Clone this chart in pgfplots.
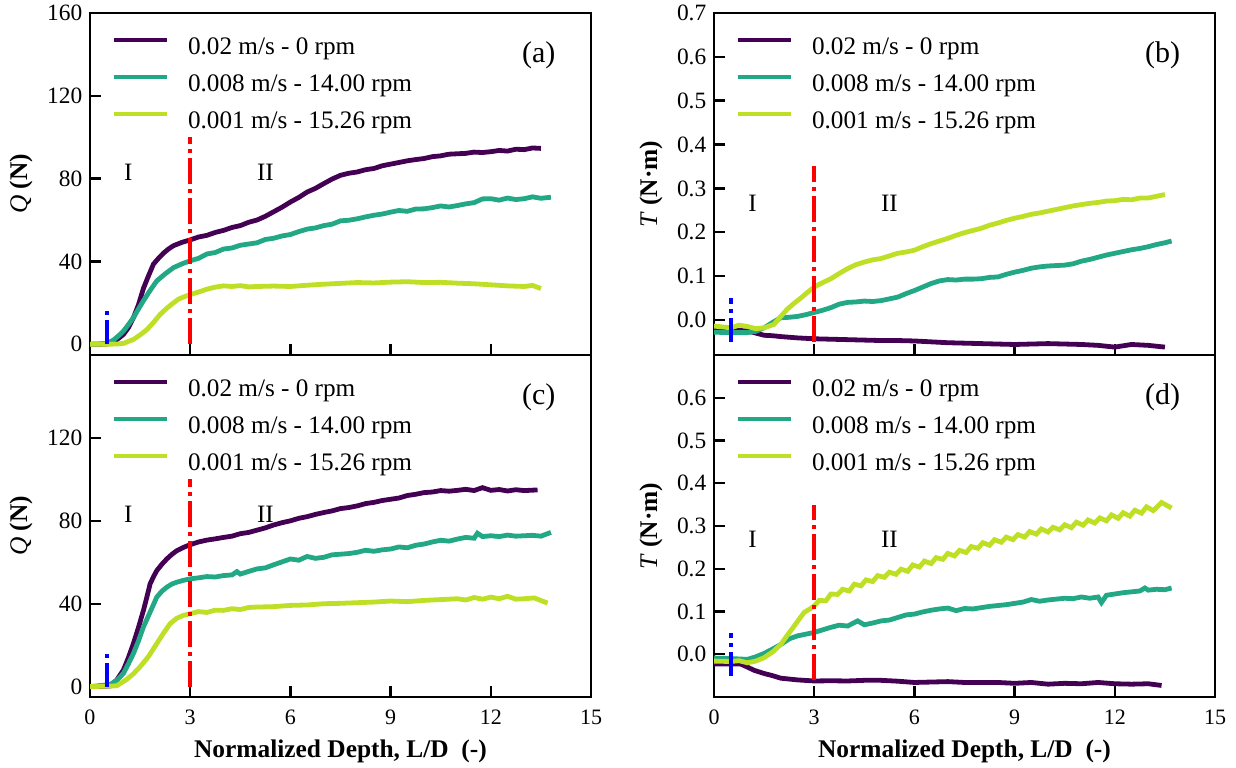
\documentclass[border=0pt]{standalone}
\usepackage{fontspec}
\setmainfont{Liberation Serif}
\usepackage{pgfplots}
\pgfplotsset{compat=1.18}
\definecolor{vpurple}{HTML}{440154}
\definecolor{vteal}{HTML}{22A884}
\definecolor{vyellow}{HTML}{BDDF26}
\tikzset{
  rom/.style={font=\fontsize{12.5}{14}\selectfont},
  pan/.style={font=\fontsize{15}{17}\selectfont},
}
\pgfplotsset{
  base/.style={
    scale only axis, width=250.5pt, height=171pt, anchor=south west,
    xmin=0, xmax=15, xtick={0,3,...,15},
    tick align=inside, xtick pos=left, ytick pos=left,
    axis line style={line width=1.2pt},
    major tick style={line width=1.2pt, black},
    major tick length=5.5pt,
    /pgf/number format/assume math mode=true,
    xticklabel style={font=\fontsize{11}{13}\selectfont, yshift=-2.5pt},
    yticklabel style={font=\fontsize{11.7}{13}\selectfont},
    label style={font=\fontsize{12.7}{14}\selectfont},
    legend cell align=left,
    legend image code/.code={\draw[#1, line width=2pt] (0pt,3.8pt) -- (26.5pt,3.8pt);},
    legend style={draw=none, fill=none, at={(0.044,0.929)}, anchor=north west,
      inner sep=0pt, outer sep=0pt, row sep=8pt,
      font=\fontsize{12.6}{14}\selectfont,
      nodes={inner sep=0pt, text height=8.5pt, text depth=2pt},
      /tikz/every odd column/.append style={column sep=9.5pt}},
  },
  qax/.style={base, ylabel={\textit{Q} \textbf{(N)}},
    ylabel style={at={(axis description cs:-0.1377,0.5)}, anchor=center}},
  tax/.style={base, ylabel={\textit{T} \textbf{(N·m)}},
    ylabel style={at={(axis description cs:-0.1255,0.5)}, anchor=center},
    yticklabel style={/pgf/number format/.cd, fixed, fixed zerofill, precision=1}},
  c1/.style={vpurple, line width=2.4pt},
  c2/.style={vteal, line width=2.4pt},
  c3/.style={vyellow, line width=2.4pt},
  rline/.style={red, line width=2pt, dash pattern=on 13pt off 2.5pt on 2pt off 2.5pt},
  bline/.style={blue, line width=2pt, dash pattern=on 12pt off 2.5pt on 2pt off 2.5pt},
}
\begin{document}
\fontsize{11}{13}\selectfont
\begin{tikzpicture}
\useasboundingbox (0,0) rectangle (618pt,383.5pt);
% (a)
\begin{axis}[qax, at={(45pt,206pt)}, ymin=-5.2, ymax=160, ytick={0,40,80,120,160}, xticklabels={}]
\addplot[c1] coordinates {(0,0) (0.3,0) (0.55,0.2) (0.75,1.5) (1.0,4.7) (1.15,8) (1.3,12.8) (1.45,19) (1.6,27) (1.75,33) (1.9,38.7) (2.05,41.5) (2.2,44) (2.35,46) (2.5,47.6) (2.75,49.2) (3.0,50.4) (3.25,51.8) (3.5,52.6) (3.75,54.0) (4.0,55) (4.25,56.4) (4.5,57.3) (4.75,58.9) (5.0,60) (5.25,61.8) (5.5,64) (5.75,66.2) (6.0,68.7) (6.25,70.9) (6.5,73.5) (6.75,75.3) (7.0,77.6) (7.25,79.8) (7.5,81.6) (7.75,82.6) (8.0,83.2) (8.25,84.3) (8.5,84.9) (8.75,86.2) (9.0,87) (9.25,87.8) (9.5,88.6) (9.75,89.2) (10.0,89.7) (10.25,90.6) (10.5,91.0) (10.75,91.8) (11.0,92) (11.25,92.2) (11.5,92.8) (11.75,92.6) (12.0,93) (12.25,93.6) (12.5,93.3) (12.75,94.2) (13.0,94) (13.25,94.8) (13.5,94.6)};
\addlegendentry{0.02 m/s - 0 rpm}
\addplot[c2] coordinates {(0,0) (0.5,0.3) (0.7,2) (0.85,4) (1.0,6.3) (1.15,9.5) (1.3,12.8) (1.45,17) (1.6,21) (1.8,26) (2.0,30.6) (2.25,34) (2.5,37) (2.75,38.8) (3.0,40.3) (3.25,41.5) (3.5,43.6) (3.75,44.3) (4.0,46) (4.25,46.5) (4.5,47.8) (4.75,48.4) (5.0,49) (5.25,50.6) (5.5,51.2) (5.75,52.3) (6.0,53) (6.25,54.4) (6.5,55.6) (6.75,56.2) (7.0,57.3) (7.25,58.0) (7.5,59.6) (7.75,59.9) (8.0,60.6) (8.25,61.5) (8.5,62.3) (8.75,62.9) (9.0,63.8) (9.25,64.6) (9.5,64.2) (9.75,65.3) (10.0,65.4) (10.25,66.0) (10.5,66.8) (10.75,66.3) (11.0,67) (11.25,67.8) (11.5,68.4) (11.75,70.2) (12.0,70.3) (12.25,69.6) (12.5,70.6) (12.75,69.9) (13.0,70.3) (13.25,71.2) (13.5,70.5) (13.8,71)};
\addlegendentry{0.008 m/s - 14.00 rpm}
\addplot[c3] coordinates {(0,0) (0.5,0) (0.8,0.1) (1.0,0.4) (1.3,2.3) (1.5,4.5) (1.7,7) (1.9,10.5) (2.1,14.4) (2.3,17.4) (2.5,20) (2.65,21.8) (2.8,22.8) (3.0,24) (3.25,25.2) (3.5,26.6) (3.75,27.6) (4.0,28.2) (4.25,27.9) (4.5,28.3) (4.75,27.7) (5.0,27.9) (5.5,28.1) (6.0,27.9) (6.5,28.5) (7.0,29) (7.5,29.4) (8.0,29.8) (8.5,29.6) (9.0,30) (9.5,30.2) (10.0,29.8) (10.5,29.9) (11.0,29.5) (11.5,29.2) (12.0,28.7) (12.5,28.2) (13.0,27.9) (13.25,28.4) (13.5,26.9)};
\addlegendentry{0.001 m/s - 15.26 rpm}
\addplot[rline, forget plot] coordinates {(3,0) (3,100)};
\addplot[bline, forget plot] coordinates {(0.5,0) (0.5,17)};
\node[rom] at (axis cs:1.15,83) {I};
\node[rom] at (axis cs:5.25,83) {II};
\node[pan] at (rel axis cs:0.8956,0.875) {(a)};
\end{axis}
% (c)
\begin{axis}[qax, at={(45pt,35pt)}, ymin=-5, ymax=160, ytick={0,40,80,120},
  xlabel={\textbf{Normalized Depth, L/D\ \ (-)}}]
\addplot[c1] coordinates {(0,0) (0.6,0.3) (0.8,3.2) (1.0,8) (1.15,14) (1.3,20.8) (1.45,28.5) (1.6,36.8) (1.7,43) (1.8,49.6) (1.9,53) (2.0,56) (2.15,59) (2.3,61.6) (2.45,63.8) (2.6,65.6) (2.8,67.2) (3.0,68.5) (3.25,69.8) (3.5,70.7) (3.75,71.3) (4.0,72) (4.25,72.6) (4.5,73.8) (4.75,74.4) (5.0,75.5) (5.25,76.6) (5.5,78) (5.75,79.1) (6.0,80) (6.25,81.2) (6.5,82) (6.75,83.1) (7.0,84) (7.25,84.8) (7.5,85.9) (7.75,86.4) (8.0,87.2) (8.25,88.3) (8.5,88.9) (8.75,89.8) (9.0,90.4) (9.25,91.0) (9.5,92.2) (9.75,92.8) (10.0,93.6) (10.25,93.9) (10.5,94.6) (10.75,94.3) (11.0,94.7) (11.25,95.2) (11.5,94.6) (11.75,96.0) (12.0,94.7) (12.25,95.1) (12.5,94.4) (12.75,95.0) (13.0,94.6) (13.4,94.9)};
\addlegendentry{0.02 m/s - 0 rpm}
\addplot[c2] coordinates {(0,0) (0.6,1) (0.8,3) (1.0,6.4) (1.15,11) (1.3,16) (1.45,22) (1.6,28.8) (1.8,36) (2.0,43.2) (2.15,46) (2.3,48) (2.45,49.5) (2.6,50.4) (2.8,51.3) (3.0,52) (3.25,52.5) (3.5,53.1) (3.75,52.9) (4.0,53.6) (4.25,53.9) (4.4,55.5) (4.5,54.3) (4.75,55.6) (5.0,56.8) (5.25,57.3) (5.5,58.8) (5.75,60.2) (6.0,61.6) (6.25,61.0) (6.5,62.8) (6.75,61.9) (7.0,62.4) (7.25,63.6) (7.5,63.9) (7.75,64.2) (8.0,64.8) (8.25,65.8) (8.5,65.3) (8.75,66.0) (9.0,66.4) (9.25,67.4) (9.5,67.0) (9.75,68.2) (10.0,68.8) (10.25,69.8) (10.5,70.6) (10.75,70.2) (11.0,71.2) (11.25,72.0) (11.5,71.6) (11.6,74) (11.75,72.4) (12.0,72.8) (12.25,72.4) (12.5,73.1) (12.75,72.6) (13.0,72.8) (13.25,73.0) (13.5,72.6) (13.8,74.4)};
\addlegendentry{0.008 m/s - 14.00 rpm}
\addplot[c3] coordinates {(0,0) (0.8,0.4) (1.1,3.5) (1.3,6.2) (1.5,9.6) (1.75,14.5) (2.0,20.8) (2.2,25.8) (2.4,30.4) (2.6,33) (2.8,34.4) (3.0,35.2) (3.25,36.2) (3.5,35.8) (3.75,36.9) (4.0,36.8) (4.25,37.6) (4.5,37.2) (4.75,38.2) (5.0,38.4) (5.5,38.6) (6.0,39.2) (6.5,39.4) (7.0,40) (7.5,40.2) (8.0,40.5) (8.5,40.8) (9.0,41.3) (9.5,41.0) (10.0,41.6) (10.5,42.0) (11.0,42.4) (11.25,41.8) (11.5,43.0) (11.75,42.2) (12.0,43.2) (12.25,42.4) (12.5,43.6) (12.75,42.2) (13.0,42.4) (13.3,42.8) (13.7,40.3)};
\addlegendentry{0.001 m/s - 15.26 rpm}
\addplot[rline, forget plot] coordinates {(3,0) (3,100)};
\addplot[bline, forget plot] coordinates {(0.5,0) (0.5,17)};
\node[rom] at (axis cs:1.15,83) {I};
\node[rom] at (axis cs:5.25,83) {II};
\node[pan] at (rel axis cs:0.8956,0.875) {(c)};
\end{axis}
% (b)
\begin{axis}[tax, at={(357pt,206pt)}, ymin=-0.08, ymax=0.7, ytick={0,0.1,0.2,0.3,0.4,0.5,0.6,0.7}, xticklabels={}]
\addplot[c1] coordinates {(0,-0.022) (0.5,-0.023) (1.0,-0.025) (1.25,-0.030) (1.5,-0.035) (1.75,-0.036) (2.0,-0.038) (2.5,-0.041) (3.0,-0.043) (3.5,-0.044) (4.0,-0.045) (4.5,-0.046) (5.0,-0.047) (5.5,-0.047) (6.0,-0.048) (6.5,-0.050) (7.0,-0.052) (7.5,-0.053) (8.0,-0.054) (8.5,-0.055) (9.0,-0.056) (9.5,-0.055) (10.0,-0.054) (10.5,-0.055) (11.0,-0.056) (11.5,-0.058) (12.0,-0.062) (12.5,-0.056) (13.0,-0.058) (13.5,-0.062)};
\addlegendentry{0.02 m/s - 0 rpm}
\addplot[c2] coordinates {(0,-0.028) (0.5,-0.029) (1.0,-0.029) (1.25,-0.026) (1.5,-0.018) (1.75,-0.006) (2.0,0.005) (2.25,0.006) (2.5,0.008) (2.75,0.012) (3.0,0.017) (3.25,0.022) (3.5,0.028) (3.75,0.036) (4.0,0.04) (4.25,0.041) (4.5,0.043) (4.75,0.042) (5.0,0.044) (5.25,0.048) (5.5,0.052) (5.75,0.060) (6.0,0.067) (6.25,0.075) (6.5,0.083) (6.75,0.089) (7.0,0.092) (7.25,0.091) (7.5,0.093) (7.75,0.093) (8.0,0.094) (8.25,0.097) (8.5,0.098) (8.75,0.104) (9.0,0.109) (9.25,0.113) (9.5,0.118) (9.75,0.121) (10.0,0.123) (10.25,0.124) (10.5,0.125) (10.75,0.128) (11.0,0.134) (11.25,0.138) (11.5,0.143) (11.75,0.148) (12.0,0.152) (12.25,0.156) (12.5,0.160) (12.75,0.163) (13.0,0.167) (13.25,0.172) (13.5,0.176) (13.7,0.180)};
\addlegendentry{0.008 m/s - 14.00 rpm}
\addplot[c3] coordinates {(0,-0.014) (0.25,-0.016) (0.5,-0.018) (0.75,-0.012) (1.0,-0.015) (1.25,-0.020) (1.5,-0.018) (1.65,-0.014) (1.8,-0.01) (2.0,0.008) (2.2,0.025) (2.4,0.038) (2.6,0.05) (2.8,0.063) (3.0,0.075) (3.25,0.085) (3.5,0.094) (3.75,0.106) (4.0,0.117) (4.25,0.126) (4.5,0.132) (4.75,0.137) (5.0,0.14) (5.25,0.146) (5.5,0.152) (5.75,0.155) (6.0,0.159) (6.25,0.167) (6.5,0.174) (6.75,0.180) (7.0,0.186) (7.25,0.193) (7.5,0.199) (7.75,0.204) (8.0,0.209) (8.25,0.216) (8.5,0.221) (8.75,0.227) (9.0,0.232) (9.25,0.236) (9.5,0.241) (9.75,0.244) (10.0,0.248) (10.25,0.252) (10.5,0.256) (10.75,0.260) (11.0,0.263) (11.25,0.266) (11.5,0.268) (11.75,0.271) (12.0,0.272) (12.25,0.275) (12.5,0.274) (12.75,0.278) (13.0,0.278) (13.25,0.282) (13.5,0.286)};
\addlegendentry{0.001 m/s - 15.26 rpm}
\addplot[rline, forget plot] coordinates {(3,-0.05) (3,0.35)};
\addplot[bline, forget plot] coordinates {(0.5,-0.05) (0.5,0.05)};
\node[rom] at (axis cs:1.15,0.267) {I};
\node[rom] at (axis cs:5.25,0.267) {II};
\node[pan] at (rel axis cs:0.8956,0.875) {(b)};
\end{axis}
% (d)
\begin{axis}[tax, at={(357pt,35pt)}, ymin=-0.1, ymax=0.7, ytick={0,0.1,0.2,0.3,0.4,0.5,0.6},
  xlabel={\textbf{Normalized Depth, L/D\ \ (-)}}]
\addplot[c1] coordinates {(0,-0.023) (0.5,-0.023) (0.8,-0.023) (1.0,-0.030) (1.2,-0.0375) (1.5,-0.045) (1.75,-0.050) (2.0,-0.056) (2.5,-0.060) (3.0,-0.0625) (3.5,-0.062) (4.0,-0.0625) (4.5,-0.061) (5.0,-0.061) (5.5,-0.063) (6.0,-0.066) (6.5,-0.065) (7.0,-0.064) (7.5,-0.066) (8.0,-0.066) (8.5,-0.066) (9.0,-0.068) (9.5,-0.066) (10.0,-0.07) (10.5,-0.068) (11.0,-0.069) (11.5,-0.066) (12.0,-0.069) (12.5,-0.070) (13.0,-0.069) (13.4,-0.073)};
\addlegendentry{0.02 m/s - 0 rpm}
\addplot[c2] coordinates {(0,-0.009) (0.5,-0.010) (1.0,-0.012) (1.25,-0.006) (1.5,0.002) (1.75,0.012) (2.0,0.023) (2.25,0.036) (2.5,0.043) (2.75,0.047) (3.0,0.051) (3.25,0.057) (3.5,0.063) (3.75,0.068) (4.0,0.066) (4.3,0.078) (4.5,0.069) (4.75,0.073) (5.0,0.078) (5.25,0.080) (5.5,0.086) (5.75,0.092) (6.0,0.094) (6.25,0.099) (6.5,0.103) (6.75,0.106) (7.0,0.108) (7.25,0.102) (7.5,0.107) (7.75,0.106) (8.0,0.109) (8.25,0.112) (8.5,0.114) (8.75,0.116) (9.0,0.119) (9.25,0.122) (9.5,0.128) (9.75,0.124) (10.0,0.127) (10.25,0.129) (10.5,0.131) (10.75,0.130) (11.0,0.134) (11.25,0.131) (11.5,0.134) (11.6,0.121) (11.75,0.138) (12.0,0.141) (12.25,0.144) (12.5,0.146) (12.75,0.148) (12.9,0.155) (13.0,0.150) (13.25,0.152) (13.5,0.151) (13.7,0.155)};
\addlegendentry{0.008 m/s - 14.00 rpm}
\addplot[c3] coordinates {(0,-0.016) (0.5,-0.017) (0.75,-0.015) (1.0,-0.02) (1.25,-0.016) (1.5,-0.008) (1.75,0.005) (2.0,0.023) (2.2,0.045) (2.4,0.066) (2.55,0.082) (2.7,0.098) (2.85,0.105) (3.0,0.113) (3.15,0.126) (3.35,0.125) (3.5,0.141) (3.7,0.140) (3.85,0.152) (4.05,0.148) (4.2,0.164) (4.4,0.160) (4.55,0.174) (4.75,0.170) (4.9,0.184) (5.1,0.180) (5.25,0.192) (5.45,0.187) (5.6,0.199) (5.8,0.194) (5.95,0.209) (6.15,0.204) (6.3,0.218) (6.5,0.212) (6.65,0.226) (6.85,0.222) (7.0,0.236) (7.2,0.230) (7.35,0.243) (7.55,0.238) (7.7,0.252) (7.9,0.248) (8.05,0.261) (8.25,0.255) (8.4,0.268) (8.6,0.262) (8.75,0.274) (8.95,0.268) (9.1,0.280) (9.3,0.274) (9.45,0.287) (9.65,0.281) (9.8,0.293) (10.0,0.286) (10.15,0.297) (10.35,0.291) (10.5,0.303) (10.7,0.296) (10.85,0.309) (11.05,0.302) (11.2,0.314) (11.4,0.307) (11.55,0.319) (11.75,0.312) (11.9,0.326) (12.1,0.318) (12.25,0.331) (12.45,0.323) (12.6,0.337) (12.8,0.330) (12.95,0.345) (13.15,0.336) (13.4,0.355) (13.7,0.342)};
\addlegendentry{0.001 m/s - 15.26 rpm}
\addplot[rline, forget plot] coordinates {(3,-0.06) (3,0.35)};
\addplot[bline, forget plot] coordinates {(0.5,-0.05) (0.5,0.05)};
\node[rom] at (axis cs:1.15,0.27) {I};
\node[rom] at (axis cs:5.25,0.27) {II};
\node[pan] at (rel axis cs:0.8956,0.875) {(d)};
\end{axis}
\end{tikzpicture}
\end{document}
